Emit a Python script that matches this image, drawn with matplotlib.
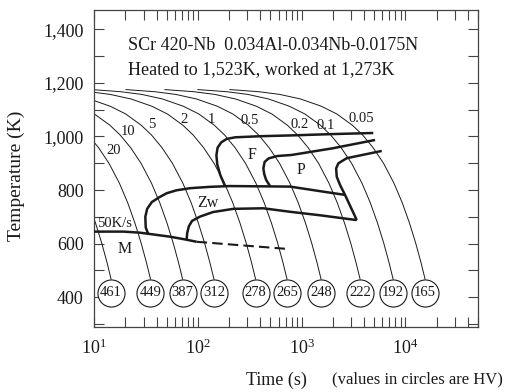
import matplotlib
matplotlib.use("Agg")
import matplotlib.pyplot as plt
from matplotlib.ticker import MultipleLocator, FuncFormatter, LogLocator, NullFormatter

plt.rcParams["font.family"] = "Liberation Serif"
plt.rcParams["mathtext.fontset"] = "custom"
plt.rcParams["mathtext.rm"] = "Liberation Serif"

ink = "#1a1a1a"
frame = "#444444"

# cooling curves: shared temperature levels (K) and the time (s) each curve reaches them
cool_temp = [1175, 1167, 1157, 1140, 1113, 1084, 1042, 1005, 958, 900, 826, 753, 677, 602, 531, 468]
cool_times = [
    [0.192, 0.367, 0.581, 0.921, 1.46, 2.06, 2.91, 3.67, 4.62, 5.81, 7.32, 8.80, 10.34, 11.87, 13.32, 14.6],
    [0.461, 0.879, 1.39, 2.21, 3.50, 4.95, 6.98, 8.79, 11.07, 13.93, 17.54, 21.09, 24.78, 28.45, 31.92, 35.0],
    [0.940, 1.79, 2.84, 4.50, 7.13, 10.07, 14.22, 17.91, 22.55, 28.38, 35.74, 42.97, 50.47, 57.95, 65.03, 71.3],
    [1.88, 3.59, 5.69, 9.02, 14.3, 20.2, 28.5, 35.9, 45.2, 56.9, 71.7, 86.2, 101.2, 116.2, 130.4, 143],
    [4.74, 9.04, 14.3, 22.7, 36.0, 50.9, 71.8, 90.4, 113.8, 143.3, 180.4, 216.9, 254.8, 292.6, 328.3, 360],
    [9.53, 18.2, 28.8, 45.6, 72.3, 102.2, 144.2, 181.6, 228.6, 287.8, 362.4, 435.7, 511.8, 587.7, 659.4, 723],
    [20.3, 38.6, 61.2, 97.0, 153.8, 217.3, 306.8, 386.3, 486.3, 612.3, 770.8, 926.8, 1089, 1250, 1403, 1538],
    [48.2, 91.8, 145.5, 230.7, 365.6, 516.6, 729.4, 918.4, 1156, 1455, 1832, 2203, 2588, 2972, 3334, 3656],
    [100.2, 191.0, 302.7, 479.8, 760.3, 1074, 1517, 1910, 2404, 3027, 3811, 4582, 5382, 6180, 6934, 7603],
    [203.6, 388.1, 615.1, 974.9, 1545, 2183, 3082, 3881, 4885, 6151, 7744, 9310, 10937, 12558, 14090, 15450],
]
hardness = [461, 449, 387, 312, 278, 265, 248, 222, 192, 165]
hv_temp = 417

rate_labels = ["20", "10", "5", "2", "1", "0.5", "0.2", "0.1", "0.05"]
rate_label_t = [15.6, 21.4, 36.0, 74.4, 136, 318, 966, 1698, 3740]
rate_label_T = [949, 1018, 1043, 1064, 1064, 1059, 1043, 1040, 1068]

# transformation boundaries
f_start_t = [4900, 2000, 800, 400, 230, 190, 168, 155, 151, 154, 165, 183]
f_start_T = [1013, 1009, 1004, 1001, 997, 991, 978, 958, 930, 895, 855, 815]
p_start_t = [5100, 2000, 800, 580, 480, 440, 428, 436, 455, 496]
p_start_T = [987, 956, 931, 927, 918, 905, 881, 860, 838, 815]
p_end_t = [5910, 2721, 2260, 2150, 2178, 2345, 2618, 3397]
p_end_T = [946, 919, 900, 881, 850, 819, 782, 688]
zw_start_t = [33.3, 31.5, 31.2, 32.5, 36, 42, 50, 62, 84, 130, 204, 773, 1500, 2618]
zw_start_T = [636, 660, 700, 730, 755, 772, 788, 799, 807, 812, 815, 813, 796, 782]
zw_end_t = [78, 79, 82, 88, 105, 140, 220, 428, 773, 1500, 3397]
zw_end_T = [614, 640, 665, 685, 701, 718, 730, 732, 719, 706, 688]
ms_t = [10, 19.2, 27.7, 34.7, 54, 75, 97.5]
ms_T = [645, 645, 641, 636, 626, 616, 607]
ms_dash_t = [97.5, 750]
ms_dash_T = [607, 580]

fig = plt.figure(figsize=(5.09, 3.92), dpi=100)
ax = fig.add_axes([0.1847, 0.1658, 0.7544, 0.8087])
ax.set_xscale("log")
ax.set_xlim(10, 5e4)
ax.set_ylim(289, 1472)

for times in cool_times:
    ax.plot(times, cool_temp, color=ink, lw=0.7, zorder=2)

for times, hv in zip(cool_times, hardness):
    ax.plot(times[-1], hv_temp, "o", ms=19.5, mfc="white", mec=ink, mew=0.8, zorder=4)
    ax.text(times[-1], hv_temp, str(hv), ha="center", va="center",
            fontsize=10.5, color=ink, zorder=5)

for lbl, t, T in zip(rate_labels, rate_label_t, rate_label_T):
    ax.text(t, T, lbl, ha="center", va="center", fontsize=10.5, color=ink, zorder=5)
ax.text(10.6, 676, "50K/s", ha="left", va="center", fontsize=10.5, color=ink, zorder=5)

thick = dict(color=ink, lw=1.8, zorder=3, solid_capstyle="butt")
ax.plot(f_start_t, f_start_T, **thick)
ax.plot(p_start_t, p_start_T, **thick)
ax.plot(p_end_t, p_end_T, **thick)
ax.plot(zw_start_t, zw_start_T, **thick)
ax.plot(zw_end_t, zw_end_T, **thick)
ax.plot(ms_t, ms_T, **thick)
ax.plot(ms_dash_t, ms_dash_T, color=ink, lw=1.5, dashes=(5, 2.5), zorder=3)

for lbl, t, T in [("F", 330, 931), ("P", 980, 875), ("Zw", 126, 751), ("M", 19.8, 579)]:
    ax.text(t, T, lbl, ha="center", va="center", fontsize=11.5, color=ink, zorder=5)

ax.text(21.3, 1323, "SCr 420-Nb  0.034Al-0.034Nb-0.0175N", ha="left", va="baseline",
        fontsize=13, color=ink)
ax.text(21.3, 1233, "Heated to 1,523K, worked at 1,273K", ha="left", va="baseline",
        fontsize=13, color=ink)

ax.yaxis.set_major_locator(MultipleLocator(200))
ax.yaxis.set_minor_locator(MultipleLocator(100))
ax.yaxis.set_major_formatter(FuncFormatter(lambda v, p: f"{v:,.0f}"))
ax.xaxis.set_major_locator(LogLocator(base=10))
ax.xaxis.set_minor_locator(LogLocator(base=10, subs=range(2, 10)))
ax.xaxis.set_minor_formatter(NullFormatter())

ax.tick_params(which="both", direction="in", top=True, right=True, length=7,
               width=0.8, color=frame, labelsize=13, labelcolor=ink)
ax.tick_params(axis="x", pad=8.5)
ax.tick_params(axis="y", pad=7.5)
for s in ax.spines.values():
    s.set_color(frame)
    s.set_linewidth(0.9)

ax.set_ylabel("Temperature (K)", fontsize=14, color=ink)
ax.yaxis.set_label_coords(-0.18, 0.476)
fig.text(276 / 509, 1 - 385 / 392, "Time (s)", ha="center", va="baseline", fontsize=13, color=ink)
fig.text(332 / 509, 1 - 383 / 392, "(values in circles are HV)", ha="left", va="baseline",
         fontsize=12, color=ink)

fig.savefig("out.png", dpi=100)
